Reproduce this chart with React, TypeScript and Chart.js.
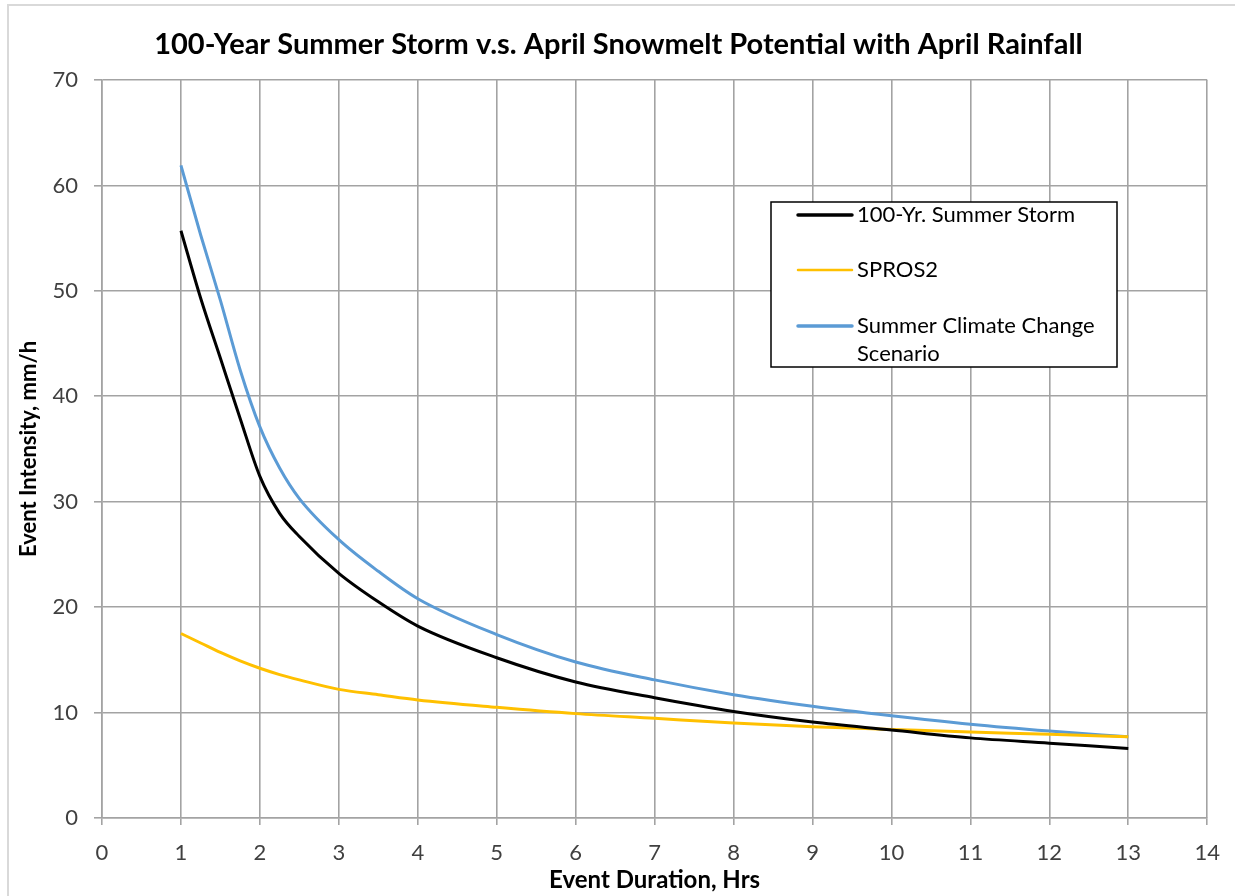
import React, { useEffect, useRef } from "react";
import { Chart, registerables } from "chart.js";

Chart.register(...registerables);

const durations = [1, 1.25, 1.5, 1.75, 2, 2.25, 2.5, 3, 3.5, 4, 5, 6, 7, 8, 9, 10, 11, 12, 13];
const summerStorm = [55.7, 49.3, 43.6, 37.9, 32.4, 28.9, 26.7, 23.2, 20.5, 18.2, 15.2, 12.9, 11.4, 10.1, 9.1, 8.35, 7.6, 7.1, 6.6];
const spros2 = [17.5, 16.6, 15.7, 14.9, 14.2, 13.6, 13.1, 12.2, 11.7, 11.2, 10.5, 9.9, 9.45, 9.0, 8.65, 8.4, 8.15, 7.95, 7.7];
const climateChange = [61.9, 55.3, 49.1, 42.5, 37.1, 33.2, 30.3, 26.4, 23.4, 20.8, 17.4, 14.8, 13.1, 11.7, 10.6, 9.7, 8.9, 8.25, 7.7];

const seriesLabels = ["100-Yr. Summer Storm", "SPROS2", "Summer Climate Change Scenario"];
const seriesColors = ["#000000", "#FFC000", "#5B9BD5"];

const titleText = "100-Year Summer Storm v.s. April Snowmelt Potential with April Rainfall";
const xTitle = "Event Duration, Hrs";
const yTitle = "Event Intensity, mm/h";
const xMin = 0, xMax = 14, xStep = 1;
const yMin = 0, yMax = 70, yStep = 10;

const FONT = "Lato, 'Open Sans', sans-serif";
const GRID = "#a3a3a3";

const backgroundPlugin = {
  id: "bgBorder",
  beforeDraw(chart: any) {
    const { ctx, width, height } = chart;
    ctx.save();
    ctx.fillStyle = "#ffffff";
    ctx.fillRect(0, 0, width, height);
    ctx.strokeStyle = "#d9d9d9";
    ctx.lineWidth = 2;
    ctx.beginPath();
    ctx.moveTo(8, height + 5);
    ctx.lineTo(8, 5);
    ctx.lineTo(width + 5, 5);
    ctx.stroke();
    ctx.fillStyle = "#000000";
    ctx.font = `bold 29px ${FONT}`;
    ctx.textAlign = "center";
    ctx.textBaseline = "middle";
    ctx.fillText(titleText, width / 2 + 1, 45);
    ctx.restore();
  },
};

const boxLegendPlugin = {
  id: "boxLegend",
  afterDraw(chart: any) {
    const { ctx, chartArea } = chart;
    const left = chartArea.left + 669;
    const top = chartArea.top + 122;
    const w = 346;
    const h = 165;
    const rowOffsets = [13, 68, 124];
    const lineWidths = [3.5, 2.5, 3.5];
    ctx.save();
    ctx.fillStyle = "#ffffff";
    ctx.fillRect(left, top, w, h);
    ctx.strokeStyle = "#000000";
    ctx.lineWidth = 1.5;
    ctx.strokeRect(left, top, w, h);
    ctx.font = `22px ${FONT}`;
    ctx.textBaseline = "middle";
    ctx.textAlign = "left";
    chart.data.datasets.forEach((ds: any, i: number) => {
      const y = top + rowOffsets[i];
      ctx.strokeStyle = ds.borderColor;
      ctx.lineWidth = lineWidths[i];
      ctx.lineCap = "round";
      ctx.beginPath();
      ctx.moveTo(left + 27, y);
      ctx.lineTo(left + 81, y);
      ctx.stroke();
      ctx.fillStyle = "#000000";
      const words = String(ds.label).split(" ");
      const lines: string[] = [];
      let cur = "";
      words.forEach((wd) => {
        const test = cur ? cur + " " + wd : wd;
        if (ctx.measureText(test).width > 255 && cur) {
          lines.push(cur);
          cur = wd;
        } else cur = test;
      });
      if (cur) lines.push(cur);
      lines.forEach((ln, j) => ctx.fillText(ln, left + 86, y + j * 28));
    });
    ctx.restore();
  },
};

export default function App() {
  const ref = useRef<HTMLCanvasElement | null>(null);
  useEffect(() => {
    if (!ref.current) return;
    const mk = (ys: number[]) => durations.map((d, i) => ({ x: d, y: ys[i] }));
    const all = [summerStorm, spros2, climateChange];
    const chart = new Chart(ref.current, {
      type: "line",
      data: {
        datasets: all.map((ys, i) => ({
          label: seriesLabels[i],
          data: mk(ys),
          borderColor: seriesColors[i],
          backgroundColor: seriesColors[i],
          borderWidth: 3,
          pointRadius: 0,
          cubicInterpolationMode: "monotone" as const,
          fill: false,
        })),
      },
      options: {
        responsive: false,
        animation: false,
        layout: { padding: { left: 0, right: 25, top: 80, bottom: 0 } },
        plugins: {
          legend: { display: false },
          tooltip: { enabled: false },
          title: { display: false },
        },
        scales: {
          x: {
            type: "linear",
            min: xMin,
            max: xMax,
            ticks: { stepSize: xStep, color: "#404040", font: { family: FONT, size: 22 }, padding: 15 },
            grid: { color: GRID, lineWidth: 1.6, tickLength: 7, tickColor: GRID },
            border: { color: GRID, width: 1.6 },
            title: {
              display: true,
              text: xTitle,
              color: "#000000",
              font: { family: FONT, size: 24, weight: "bold", lineHeight: 1.2 },
              padding: { top: 0, bottom: 1.6 },
            },
            afterFit(scale: any) {
              scale.height = 78;
            },
          },
          y: {
            type: "linear",
            min: yMin,
            max: yMax,
            ticks: { stepSize: yStep, color: "#404040", font: { family: FONT, size: 22 }, padding: 16 },
            grid: { color: GRID, lineWidth: 1.6, tickLength: 8, tickColor: GRID },
            border: { color: GRID, width: 1.6 },
            title: {
              display: true,
              text: yTitle,
              color: "#000000",
              font: { family: FONT, size: 22, weight: "bold", lineHeight: 1.2 },
              padding: { top: 15.8, bottom: 0 },
            },
            afterFit(scale: any) {
              scale.width = 102;
            },
          },
        },
      },
      plugins: [backgroundPlugin, boxLegendPlugin],
    });
    return () => chart.destroy();
  }, []);
  return (
    <div style={{ position: "fixed", left: 0, top: 0, width: 1235, height: 896, overflow: "hidden", background: "#fff" }}>
      <canvas ref={ref} width={1235} height={896} style={{ display: "block" }} />
    </div>
  );
}
